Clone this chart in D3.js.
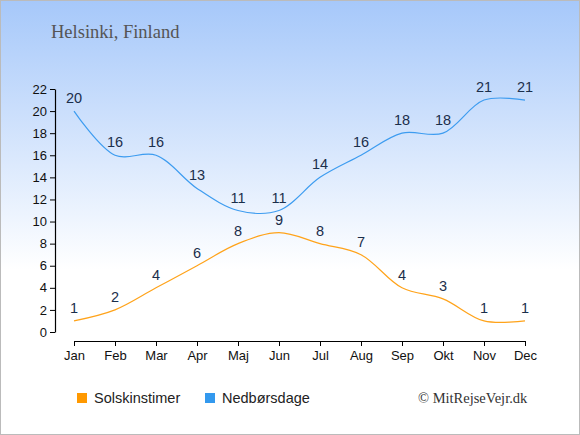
<!DOCTYPE html>
<html>
<head>
<meta charset="utf-8">
<script src="https://cdn.jsdelivr.net/npm/d3@7"></script>
<style>
  body { margin: 0; }
  svg { display: block; }
</style>
</head>
<body>
<div id="chart"></div>
<script>
// Chart data
const months = ["Jan", "Feb", "Mar", "Apr", "Maj", "Jun", "Jul", "Aug", "Sep", "Okt", "Nov", "Dec"];
const sunHours = [1, 2, 4, 6, 8, 9, 8, 7, 4, 3, 1, 1];
const rainDays = [20, 16, 16, 13, 11, 11, 14, 16, 18, 18, 21, 21];
const yTicks = [0, 2, 4, 6, 8, 10, 12, 14, 16, 18, 20, 22];

const W = 580, H = 435;

const svg = d3.select("#chart").append("svg").attr("width", W).attr("height", H);

// Background gradient
const defs = svg.append("defs");
const grad = defs.append("linearGradient").attr("id", "bg").attr("x1", 0).attr("y1", 0).attr("x2", 0).attr("y2", 1);
grad.append("stop").attr("offset", "0%").attr("stop-color", "#a6c8fa");
grad.append("stop").attr("offset", "62%").attr("stop-color", "#ffffff");
grad.append("stop").attr("offset", "100%").attr("stop-color", "#ffffff");

svg.append("rect")
  .attr("x", 0.5).attr("y", 0.5)
  .attr("width", W - 1).attr("height", H - 1)
  .attr("fill", "url(#bg)")
  .attr("stroke", "#bbbbbb");

// Title
svg.append("text")
  .attr("x", 51).attr("y", 38)
  .attr("font-family", "'Liberation Serif', serif")
  .attr("font-size", 18.5)
  .attr("fill", "#555555")
  .text("Helsinki, Finland");

// Scales
const xScale = d3.scalePoint().domain(months).range([74, 525]);
const yScale = d3.scaleLinear().domain([0, 22]).range([332, 89]);

// Axes
const yAxis = svg.append("g")
  .attr("transform", "translate(55,0)")
  .call(d3.axisLeft(yScale).tickValues(yTicks).tickSize(5).tickSizeOuter(0));
const xAxis = svg.append("g")
  .attr("transform", "translate(0,341)")
  .call(d3.axisBottom(xScale).tickSize(5).tickSizeOuter(0));

[yAxis, xAxis].forEach((g) => {
  g.select(".domain").attr("stroke", "#000").attr("stroke-width", 1.2);
  g.selectAll(".tick line").attr("stroke", "#000");
  g.selectAll(".tick text")
    .attr("font-family", "'Liberation Sans', Arial, sans-serif")
    .attr("font-size", 13)
    .attr("fill", "#111");
});
yAxis.selectAll(".tick text").attr("x", -8);
xAxis.selectAll(".tick text").attr("y", 10);

// Lines
const line = d3.line()
  .x((d, i) => xScale(months[i]))
  .y((d) => yScale(d))
  .curve(d3.curveCatmullRom.alpha(0.5));

svg.append("path")
  .datum(rainDays)
  .attr("d", line)
  .attr("fill", "none")
  .attr("stroke", "#3d9cf0")
  .attr("stroke-width", 1.2);

svg.append("path")
  .datum(sunHours)
  .attr("d", line)
  .attr("fill", "none")
  .attr("stroke", "#ffa31a")
  .attr("stroke-width", 1.2);

// Value labels
function addLabels(data) {
  svg.append("g")
    .selectAll("text")
    .data(data)
    .join("text")
    .attr("x", (d, i) => xScale(months[i]))
    .attr("y", (d) => yScale(d) - 8)
    .attr("text-anchor", "middle")
    .attr("font-family", "'Liberation Sans', Arial, sans-serif")
    .attr("font-size", 14.5)
    .attr("fill", "#1b2e4b")
    .text((d) => d);
}
addLabels(rainDays);
addLabels(sunHours);

// Legend
const legendItems = [
  { label: "Solskinstimer", color: "#ff9900", x: 77 },
  { label: "Nedbørsdage", color: "#3399ee", x: 205 },
];
const legend = svg.append("g");
legendItems.forEach((item) => {
  legend.append("rect")
    .attr("x", item.x).attr("y", 393)
    .attr("width", 10).attr("height", 10)
    .attr("fill", item.color);
  legend.append("text")
    .attr("x", item.x + 17).attr("y", 403)
    .attr("font-family", "'Liberation Sans', Arial, sans-serif")
    .attr("font-size", 14.5)
    .attr("fill", "#222")
    .text(item.label);
});

// Credit
svg.append("text")
  .attr("x", 418).attr("y", 403)
  .attr("font-family", "'Liberation Serif', serif")
  .attr("font-size", 14.5)
  .attr("fill", "#333")
  .text("© MitRejseVejr.dk");
</script>
</body>
</html>
